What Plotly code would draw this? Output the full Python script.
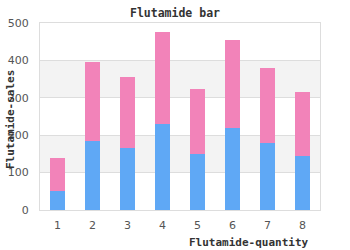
import plotly.graph_objects as go

categories = [1, 2, 3, 4, 5, 6, 7, 8]
blue_values = [51, 185, 167, 231, 151, 220, 179, 145]
pink_values = [88, 210, 189, 246, 173, 235, 201, 171]
y_ticks = [0, 100, 200, 300, 400, 500]

fig = go.Figure()
fig.add_trace(go.Bar(x=categories, y=blue_values, marker=dict(color="#5fa8f5", line=dict(width=0)), width=0.43))
fig.add_trace(go.Bar(x=categories, y=pink_values, marker=dict(color="#f283b9", line=dict(width=0)), width=0.43))

# alternating bands
for lo, hi in [(100, 200), (300, 400)]:
    fig.add_shape(type="rect", xref="paper", yref="y", x0=0, x1=1, y0=lo, y1=hi,
                  fillcolor="#f3f3f3", line=dict(width=0), layer="below")

mono = "DejaVu Sans Mono"
W, H = 350, 250
L, R, T, B = 40, 30, 23, 40
pw, ph = W - L - R, H - T - B

def px_x(x):
    return (x - L) / pw

def px_y(y):
    return (H - B - y) / ph

fig.update_layout(
    barmode="stack",
    width=W, height=H,
    margin=dict(l=L, r=R, t=T, b=B, autoexpand=False),
    paper_bgcolor="white", plot_bgcolor="white",
    showlegend=False,
    title=dict(text="<b>Flutamide bar</b>", x=0.5, xanchor="center", y=1 - 13 / H, yanchor="middle",
               font=dict(family=mono, size=11.5, color="#333")),
    xaxis=dict(range=[0.5, 8.5], tickvals=categories, showgrid=False, zeroline=False,
               showline=True, linecolor="#dddddd", mirror=True, ticks="", automargin=False,
               ticklabelstandoff=5,
               tickfont=dict(family="DejaVu Sans", size=11, color="#555")),
    yaxis=dict(range=[0, 500], tickvals=y_ticks, showgrid=True, gridcolor="#dddddd", zeroline=False,
               showline=True, linecolor="#dddddd", mirror=True, ticks="", automargin=False,
               ticklabelstandoff=8,
               tickfont=dict(family="DejaVu Sans", size=11, color="#555")),
    annotations=[
        dict(text="<b>Flutamide-quantity</b>", xref="paper", yref="paper", x=px_x(311), y=px_y(242),
             xanchor="right", yanchor="middle", showarrow=False,
             font=dict(family=mono, size=11, color="#333")),
        dict(text="<b>Flutamide-sales</b>", xref="paper", yref="paper", x=px_x(10), y=px_y(120),
             xanchor="center", yanchor="middle", showarrow=False, textangle=-90,
             font=dict(family=mono, size=11, color="#333")),
    ],
)
fig.write_html("out.html")
